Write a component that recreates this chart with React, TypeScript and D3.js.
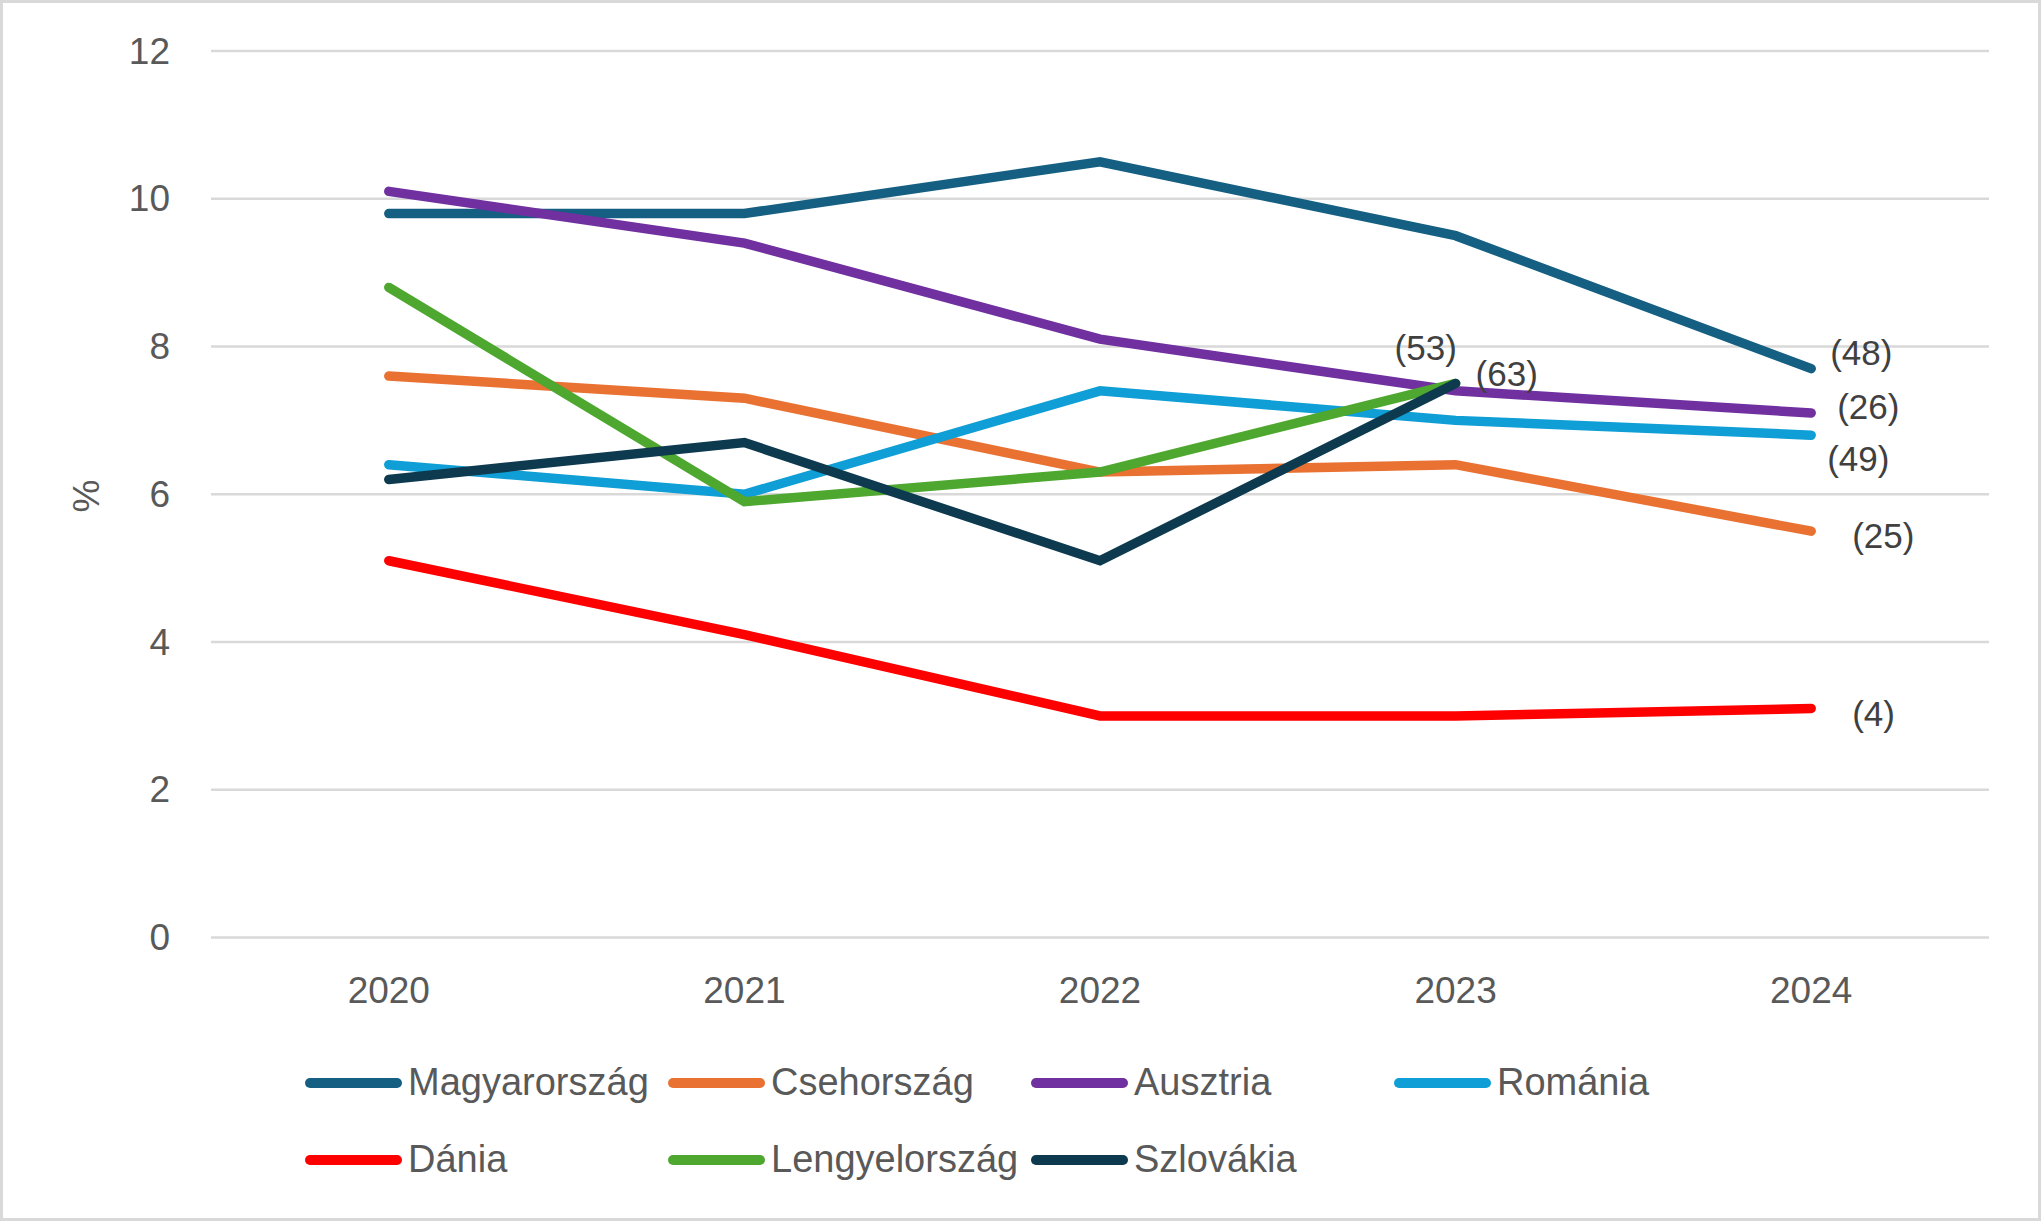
import React, { useEffect, useRef } from "react";
import * as d3 from "d3";

const years = ["2020", "2021", "2022", "2023", "2024"];

const seriesNames = [
  "Magyarország",
  "Csehország",
  "Ausztria",
  "Románia",
  "Dánia",
  "Lengyelország",
  "Szlovákia",
];

const magyarorszag = [9.8, 9.8, 10.5, 9.5, 7.7];
const csehorszag = [7.6, 7.3, 6.3, 6.4, 5.5];
const ausztria = [10.1, 9.4, 8.1, 7.4, 7.1];
const romania = [6.4, 6.0, 7.4, 7.0, 6.8];
const dania = [5.1, 4.1, 3.0, 3.0, 3.1];
const lengyelorszag = [8.8, 5.9, 6.3, 7.5, null];
const szlovakia = [6.2, 6.7, 5.1, 7.5, null];

// sample sizes shown next to the last point of each line
const lastLabels = ["(48)", "(25)", "(26)", "(49)", "(4)", "(53)", "(63)"];

const yTicks = [0, 2, 4, 6, 8, 10, 12];

const colors = [
  "#156082",
  "#E97132",
  "#7030A0",
  "#0F9ED5",
  "#FF0000",
  "#4EA72E",
  "#0E3A4F",
];

type Pt = { year: string; value: number };

export default function App() {
  const ref = useRef<SVGSVGElement>(null);

  useEffect(() => {
    document.body.style.margin = "0";
    if (!ref.current) return;
    const W = 2041;
    const H = 1221;
    const font = "'Liberation Sans', Arial, sans-serif";

    const svg = d3.select(ref.current);
    svg.selectAll("*").remove();

    svg
      .append("rect")
      .attr("x", 1.5)
      .attr("y", 1.5)
      .attr("width", W - 3)
      .attr("height", H - 3)
      .attr("fill", "#fff")
      .attr("stroke", "#d9d9d9")
      .attr("stroke-width", 3);

    const x = d3.scalePoint<string>().domain(years).range([211, 1989]).padding(0.5);
    const y = d3.scaleLinear().domain([0, 12]).range([937.5, 51]);

    // grid
    svg
      .append("g")
      .selectAll("line")
      .data(yTicks)
      .join("line")
      .attr("x1", 211)
      .attr("x2", 1989)
      .attr("y1", (d) => y(d))
      .attr("y2", (d) => y(d))
      .attr("stroke", "#d9d9d9")
      .attr("stroke-width", 2.5);

    svg
      .append("g")
      .selectAll("text")
      .data(yTicks)
      .join("text")
      .attr("x", 170)
      .attr("y", (d) => y(d))
      .attr("text-anchor", "end")
      .attr("dominant-baseline", "central")
      .attr("font-family", font)
      .attr("font-size", 37)
      .attr("fill", "#595959")
      .text((d) => d);

    svg
      .append("g")
      .selectAll("text")
      .data(years)
      .join("text")
      .attr("x", (d) => x(d)!)
      .attr("y", 1003)
      .attr("text-anchor", "middle")
      .attr("font-family", font)
      .attr("font-size", 37)
      .attr("fill", "#595959")
      .text((d) => d);

    svg
      .append("text")
      .attr("transform", "translate(86,496) rotate(-90)")
      .attr("text-anchor", "middle")
      .attr("dominant-baseline", "central")
      .attr("font-family", font)
      .attr("font-size", 37)
      .attr("fill", "#595959")
      .text("%");

    const allValues = [
      magyarorszag,
      csehorszag,
      ausztria,
      romania,
      dania,
      lengyelorszag,
      szlovakia,
    ];

    const line = d3
      .line<Pt>()
      .x((d) => x(d.year)!)
      .y((d) => y(d.value));

    const series = allValues.map((vals, i) => ({
      name: seriesNames[i],
      color: colors[i],
      points: vals
        .map((v, j) => ({ year: years[j], value: v }))
        .filter((p) => p.value !== null) as Pt[],
    }));

    svg
      .append("g")
      .selectAll("path")
      .data(series)
      .join("path")
      .attr("d", (d) => line(d.points))
      .attr("fill", "none")
      .attr("stroke", (d) => d.color)
      .attr("stroke-width", 9.5)
      .attr("stroke-linecap", "round")
      .attr("stroke-linejoin", "miter");

    // label offsets from each series' last point
    const labelOffsets: Record<string, [number, number]> = {
      Magyarország: [19, -16],
      Csehország: [41, 4],
      Ausztria: [26, -6],
      Románia: [16, 23],
      Dánia: [41, 5],
      Lengyelország: [-61, -36],
      Szlovákia: [20, -10],
    };

    svg
      .append("g")
      .selectAll("text")
      .data(series)
      .join("text")
      .attr("x", (d) => x(d.points[d.points.length - 1].year)! + labelOffsets[d.name][0])
      .attr("y", (d) => y(d.points[d.points.length - 1].value) + labelOffsets[d.name][1])
      .attr("dominant-baseline", "central")
      .attr("font-family", font)
      .attr("font-size", 35)
      .attr("fill", "#404040")
      .text((d, i) => lastLabels[i]);

    // legend, 4 per row
    const perRow = 4;
    const colW = 363;
    const legend = svg
      .append("g")
      .selectAll("g")
      .data(series)
      .join("g")
      .attr(
        "transform",
        (d, i) => `translate(${305 + (i % perRow) * colW},${1083 + Math.floor(i / perRow) * 77})`,
      );

    legend
      .append("line")
      .attr("x1", 5)
      .attr("x2", 92)
      .attr("stroke", (d) => d.color)
      .attr("stroke-width", 10)
      .attr("stroke-linecap", "round");

    legend
      .append("text")
      .attr("x", 103)
      .attr("y", 12)
      .attr("font-family", font)
      .attr("font-size", 38)
      .attr("fill", "#595959")
      .text((d) => d.name);
  }, []);

  return <svg ref={ref} width={2041} height={1221} style={{ display: "block" }} />;
}
